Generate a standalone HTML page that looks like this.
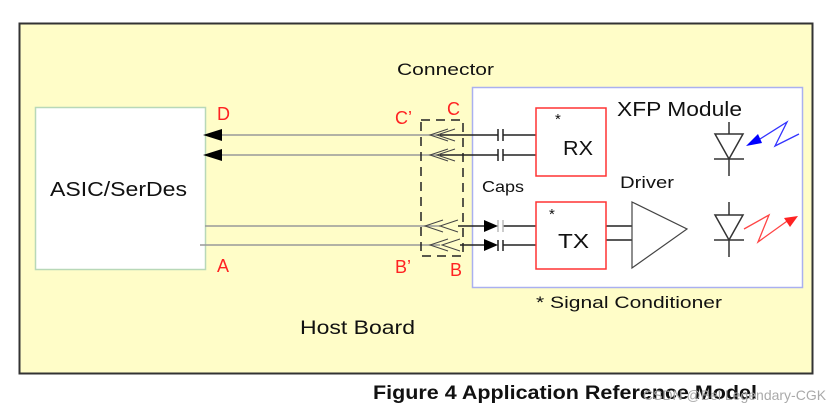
<!DOCTYPE html>
<html><head><meta charset="utf-8"><style>
html,body{margin:0;padding:0;background:#fff;}
svg{display:block;font-family:"Liberation Sans",Arial,sans-serif;}
</style></head><body>
<svg width="838" height="411" viewBox="0 0 838 411" xmlns="http://www.w3.org/2000/svg">
<rect x="19.5" y="23.5" width="793" height="350" fill="#fffdc8" stroke="#333" stroke-width="2"/>
<rect x="35.5" y="107.5" width="170" height="162" fill="#fff" stroke="#b8d8b8" stroke-width="1.5"/>
<text x="50" y="196" font-size="20" textLength="137" lengthAdjust="spacingAndGlyphs" fill="#111">ASIC/SerDes</text>
<rect x="472.5" y="87.5" width="330" height="200" fill="#fff" stroke="#aab0f0" stroke-width="1.5"/>
<text x="397" y="75" font-size="17" textLength="97" lengthAdjust="spacingAndGlyphs" fill="#111">Connector</text>
<text x="617" y="116" font-size="20" textLength="125" lengthAdjust="spacingAndGlyphs" fill="#111">XFP Module</text>
<text x="482" y="192" font-size="16" textLength="42" lengthAdjust="spacingAndGlyphs" fill="#111">Caps</text>
<text x="620" y="188" font-size="17" textLength="54" lengthAdjust="spacingAndGlyphs" fill="#111">Driver</text>
<text x="536" y="308" font-size="17" textLength="186" lengthAdjust="spacingAndGlyphs" fill="#111">* Signal Conditioner</text>
<text x="300" y="334" font-size="19" textLength="115" lengthAdjust="spacingAndGlyphs" fill="#111">Host Board</text>
<g fill="#f22" font-size="18">
<text x="217" y="120">D</text>
<text x="217" y="272">A</text>
<text x="395" y="124">C’</text>
<text x="447" y="115">C</text>
<text x="395" y="273">B’</text>
<text x="450" y="276">B</text>
</g>
<g stroke="#999" stroke-width="1.5">
<line x1="215" y1="135" x2="440" y2="135"/>
<line x1="215" y1="155" x2="440" y2="155"/>
<line x1="205" y1="226" x2="440" y2="226"/>
<line x1="200" y1="245" x2="440" y2="245"/>
</g>
<path d="M203,135 L222,129 L222,141 Z" fill="#000"/>
<path d="M203,155 L222,149 L222,161 Z" fill="#000"/>
<g stroke="#444" stroke-width="1" fill="none">
<path d="M448,129 L430,135 L448,141 M455,129 L437,135 L455,141"/>
<path d="M448,149 L430,155 L448,161 M455,149 L437,155 L455,161"/>
<path d="M443,220 L425,226 L443,232 M458,220 L440,226 L458,232"/>
<path d="M448,239 L430,245 L448,251 M460,239 L442,245 L460,251"/>
</g>
<rect x="421" y="120" width="42" height="136" fill="none" stroke="#222" stroke-width="1.5" stroke-dasharray="9,6"/>
<g stroke="#222" stroke-width="1.5">
<line x1="440" y1="135" x2="498" y2="135"/>
<line x1="440" y1="155" x2="498" y2="155"/>
<line x1="503" y1="135" x2="536" y2="135"/>
<line x1="503" y1="155" x2="536" y2="155"/>
<line x1="498" y1="129" x2="498" y2="141"/><line x1="503" y1="129" x2="503" y2="141"/>
<line x1="498" y1="149" x2="498" y2="161"/><line x1="503" y1="149" x2="503" y2="161"/>
<line x1="458" y1="226" x2="488" y2="226"/>
<line x1="460" y1="245" x2="488" y2="245"/>
<line x1="498" y1="240" x2="498" y2="251"/><line x1="503" y1="240" x2="503" y2="251"/>
<line x1="503" y1="226" x2="536" y2="226"/>
<line x1="503" y1="245" x2="536" y2="245"/>
<line x1="606" y1="226" x2="632" y2="226"/>
<line x1="606" y1="240" x2="632" y2="240"/>
</g>
<g stroke="#bbb" stroke-width="1.5"><line x1="498" y1="220" x2="498" y2="232"/><line x1="503" y1="220" x2="503" y2="232"/></g>
<path d="M498,226 L484,220 L484,232 Z" fill="#000"/>
<path d="M498,245 L484,239 L484,251 Z" fill="#000"/>
<rect x="536" y="108" width="70" height="68" fill="#fff" stroke="#f33" stroke-width="1.5"/>
<rect x="536" y="202" width="70" height="67" fill="#fff" stroke="#f33" stroke-width="1.5"/>
<text x="555" y="124" font-size="15" fill="#111">*</text>
<text x="563" y="155" font-size="20" textLength="30" lengthAdjust="spacingAndGlyphs" fill="#111">RX</text>
<text x="549" y="219" font-size="15" fill="#111">*</text>
<text x="558" y="248" font-size="20" textLength="31" lengthAdjust="spacingAndGlyphs" fill="#111">TX</text>
<path d="M632,202 L687,229 L632,268 Z" fill="#fff" stroke="#444" stroke-width="1.2"/>
<g stroke="#333" stroke-width="1.5" fill="none">
<line x1="729" y1="122" x2="729" y2="176"/>
<path d="M715,134 L743,134 L729,159 Z" fill="#fff"/>
<line x1="714" y1="159" x2="744" y2="159"/>
<line x1="729" y1="202" x2="729" y2="257"/>
<path d="M715,215 L743,215 L729,240 Z" fill="#fff"/>
<line x1="714" y1="240" x2="744" y2="240"/>
</g>
<path d="M799,134 L775,146 L787,122 L752,144" stroke="#33f" stroke-width="1.3" fill="none"/>
<path d="M746,146 L758,134 L762,143 Z" fill="#00f"/>
<path d="M744,229 L769,215 L758,242 L790,219" stroke="#f44" stroke-width="1.3" fill="none"/>
<path d="M798,216 L784,218 L790,227 Z" fill="#f22"/>
<text x="373" y="399" font-size="19" font-weight="bold" textLength="384" lengthAdjust="spacingAndGlyphs" fill="#111">Figure 4  Application Reference Model</text>
<text x="643" y="400" font-size="14" fill="#aaa">CSDN @Bel Legendary-CGK</text>
</svg>
</body></html>
